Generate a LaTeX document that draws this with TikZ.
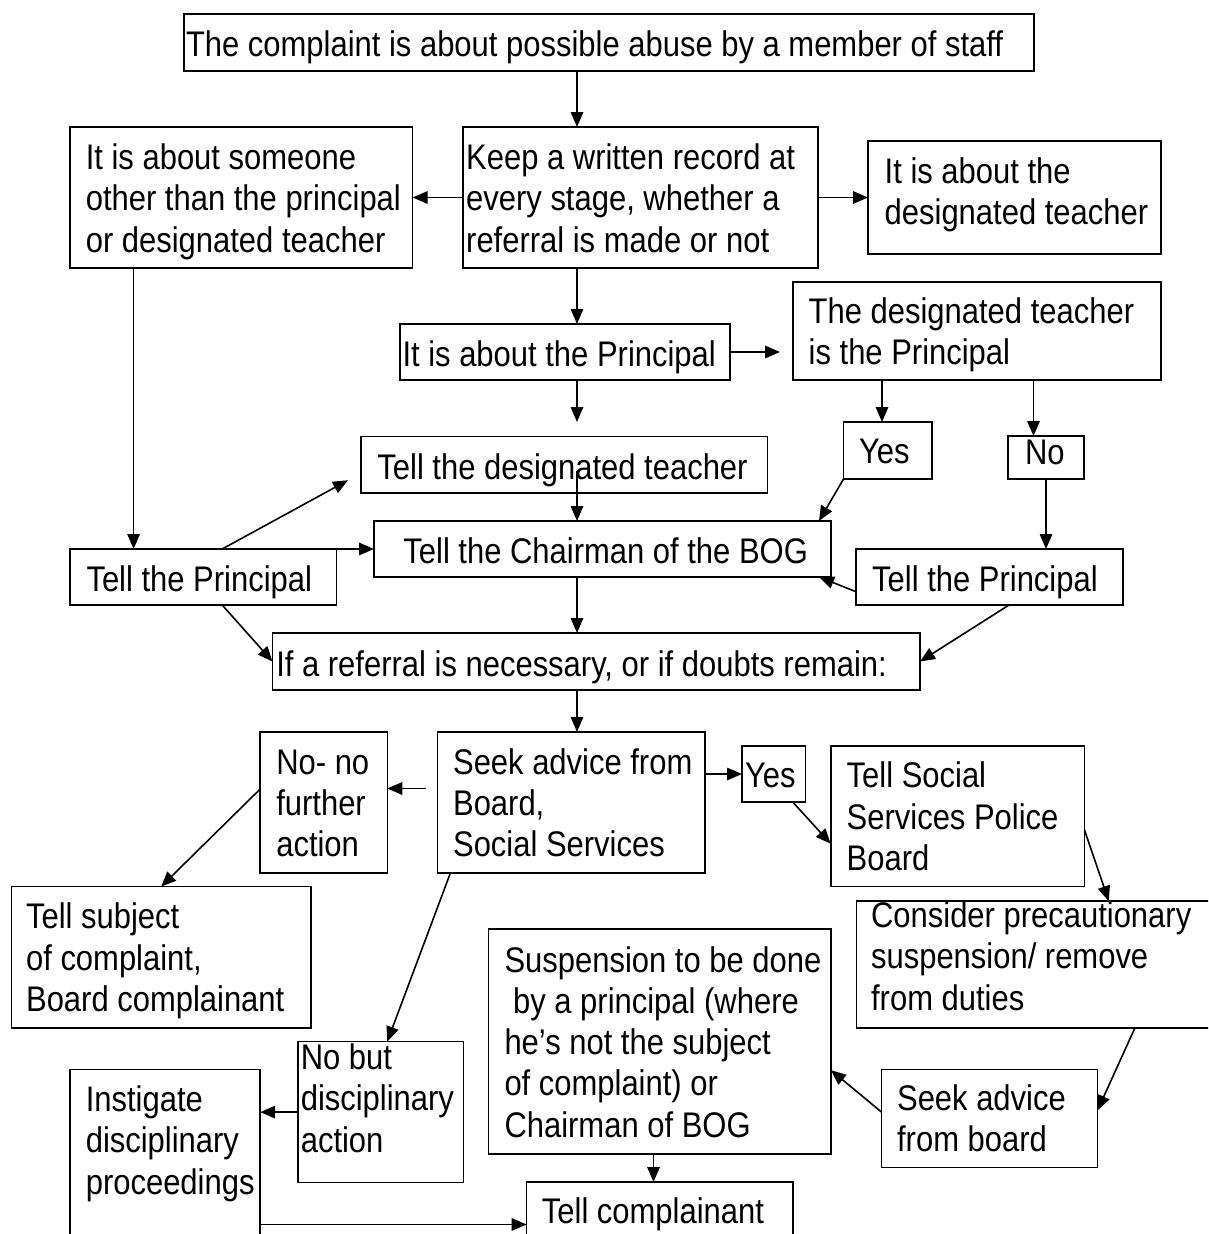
\documentclass[tikz,border=0pt]{standalone}
\usepackage{fontspec}
\setmainfont[FakeStretch=0.87]{Liberation Sans}
\usetikzlibrary{arrows.meta}
\newcommand\tl[1]{\begin{tabular}[t]{@{}l@{}}#1\end{tabular}}
\newcommand\bx[5]{\pgfmathsetmacro\bxw{#4-#2}\pgfmathsetmacro\bxh{#5-#3}%
  \node[box, minimum width=\bxw pt, minimum height=\bxh pt] (#1) at (#2,#3) {};}
\begin{document}
\begin{tikzpicture}[x=1pt,y=-1pt,
  box/.style={draw, line width=1.6pt, anchor=north west, inner sep=0pt, outer sep=0pt},
  txt/.style={anchor=base west, inner sep=0pt, outer sep=0pt, font=\fontsize{35.6}{41.3}\selectfont},
  arr/.style={line width=1.6pt, -{Triangle[length=15pt,width=12.5pt]}}]
\useasboundingbox (0,0) rectangle (1208,1234);
\clip (0,0) rectangle (1208,1234);
\fill[white] (0,0) rectangle (1208,1234);
% helper coordinates for vertical connectors
\coordinate (cx) at (577,0);
\coordinate (vxa) at (882,0);
\coordinate (vxb) at (1033.5,0);
\coordinate (vxc) at (653.5,0);
\coordinate (vxd) at (133.6,0);
\coordinate (ya) at (0,1224.5);
% boxes
\bx{top}{184}{14}{1034}{71}
\bx{someone}{70}{127}{412.6}{268}
\bx{keep}{463}{127}{818}{268}
\bx{desig}{868}{141}{1161}{254}
\bx{princ}{400}{324}{730}{380}
\bx{dtp}{793}{282}{1161}{380}
\bx{yesa}{843.5}{422}{932}{479}
\bx{noa}{1008}{436}{1084}{479}
\bx{tdt}{361}{436.5}{767.5}{493}
\bx{chair}{374}{521}{831}{577}
\bx{tpl}{70}{549}{336.4}{605}
\bx{tpr}{856}{549}{1122.7}{605}
\bx{ref}{272.5}{633}{920}{690}
\bx{seek}{437.4}{732}{704.7}{873}
\bx{nono}{260}{732}{387.3}{873}
\bx{yesb}{742}{746}{805.5}{802}
\bx{tss}{830.7}{746}{1084.3}{886.6}
\bx{subj}{11.5}{886.6}{310.8}{1027.7}
\bx{cons}{856.3}{901}{1230}{1027.7}
\bx{susp}{488.3}{929}{831}{1154}
\bx{nobut}{297.7}{1041.6}{463.4}{1182.6}
\bx{inst}{70}{1069.5}{260.2}{1260}
\bx{sboard}{881.5}{1069.5}{1097.5}{1167.6}
\bx{tcomp}{526.6}{1182}{792.7}{1260}
% texts
\node[txt] (top-t) at (186,56.7) {\tl{The complaint is about possible abuse by a member of staff}};
\node[txt] (someone-t) at (85.8,169.5) {\tl{It is about someone\\other than the principal\\or designated teacher}};
\node[txt] (keep-t) at (466.2,169.5) {\tl{Keep a written record at\\every stage, whether a\\referral is made or not}};
\node[txt] (desig-t) at (884.7,183.3) {\tl{It is about the\\designated teacher}};
\node[txt] (princ-t) at (402.5,366.7) {\tl{It is about the Principal}};
\node[txt] (dtp-t) at (808.7,323.3) {\tl{The designated teacher\\is the Principal}};
\node[txt] (yesa-t) at (859.1,463.3) {\tl{Yes}};
\node[txt] (noa-t) at (1025,464) {\tl{No}};
\node[txt] (tdt-t) at (377.4,479) {\tl{Tell the designated teacher}};
\node[txt] (chair-t) at (403.4,563.3) {\tl{Tell the Chairman of the BOG}};
\node[txt] (tpl-t) at (86.5,591.7) {\tl{Tell the Principal}};
\node[txt] (tpr-t) at (872.2,591) {\tl{Tell the Principal}};
\node[txt] (ref-t) at (276.3,676) {\tl{If a referral is necessary, or if doubts remain:}};
\node[txt] (seek-t) at (453.1,774.3) {\tl{Seek advice from\\Board,\\Social Services}};
\node[txt] (nono-t) at (276.3,774.3) {\tl{No- no\\further\\action}};
\node[txt] (yesb-t) at (745.1,787.9) {\tl{Yes}};
\node[txt] (tss-t) at (846.7,787.9) {\tl{Tell Social\\Services Police\\Board}};
\node[txt] (subj-t) at (26.1,928.9) {\tl{Tell subject\\of complaint,\\Board complainant}};
\node[txt] (cons-t) at (871.1,927.5) {\tl{Consider precautionary\\suspension/ remove\\from duties}};
\node[txt] (susp-t) at (504.5,972) {\tl{Suspension to be done\\\ by a principal (where\\he’s not the subject\\of complaint) or\\Chairman of BOG}};
\node[txt] (nobut-t) at (300.8,1069.5) {\tl{No but\\disciplinary\\action}};
\node[txt] (inst-t) at (85.8,1111.4) {\tl{Instigate\\disciplinary\\proceedings}};
\node[txt] (sboard-t) at (897.1,1110.4) {\tl{Seek advice\\from board}};
\node[txt] (tcomp-t) at (541.9,1223.5) {\tl{Tell complainant}};
% connectors
\draw[arr] (top.south -| cx) -- (keep.north -| cx);
\draw[arr] (keep.west) -- (someone.east);
\draw[arr] (keep.east) -- (desig.west);
\draw[arr] (keep.south -| cx) -- (princ.north -| cx);
\draw[arr, shorten >=14.5pt] (princ.south -| cx) -- (tdt.north -| cx);
\draw[arr, shorten >=13pt] (princ.east) -- (princ.east -| dtp.west);
\draw[arr] (dtp.south -| vxa) -- (yesa.north -| vxa);
\draw[arr] (dtp.south -| vxb) -- (noa.north -| vxb);
\draw[arr] (yesa.south west) -- ([xshift=-12pt]chair.north east);
\draw[arr] (noa.south) -- (noa.south |- tpr.north);
\draw[arr] ([yshift=-14.7pt]tpr.west) -- ([xshift=-12pt]chair.south east);
\draw[arr] ([xshift=19.7pt]tpr.south) -- (ref.east);
\draw[arr, shorten <=-22pt] (tdt.south -| cx) -- (chair.north -| cx);
\draw[arr] ([xshift=19pt]tpl.north) -- ([xshift=-13pt,yshift=-15.5pt]tdt.west);
\draw[arr] (tpl.north east) -- (tpl.north east -| chair.west);
\draw[arr] ([xshift=19pt]tpl.south) -- (ref.west);
\draw[arr] (someone.south -| vxd) -- (tpl.north -| vxd);
\draw[arr] (chair.south -| cx) -- (ref.north -| cx);
\draw[arr] (ref.south -| cx) -- (seek.north -| cx);
\draw[arr] ([xshift=-11.4pt,yshift=14pt]seek.west) -- ([yshift=14pt]nono.east);
\draw[arr] ([yshift=13.3pt]nono.west) -- (subj.north);
\draw[arr] ([xshift=13pt]seek.south west) -- ([xshift=6.7pt]nobut.north);
\draw[arr] (seek.east |- yesb.west) -- (yesb.west);
\draw[arr] ([xshift=19pt]yesb.south) -- ([yshift=-27.4pt]tss.west);
\draw[arr] ([yshift=-13.1pt]tss.east) -- ([xshift=252.4pt]cons.north west);
\draw[arr] ([xshift=278.7pt]cons.south west) -- ([yshift=8.2pt]sboard.east);
\draw[arr] ([yshift=6.5pt]sboard.west) -- ([yshift=-28.7pt]susp.east);
\draw[arr] (nobut.west) -- (nobut.west -| inst.east);
\draw[arr] (inst.east |- ya) -- (tcomp.west |- ya);
\draw[arr] (susp.south -| vxc) -- (tcomp.north -| vxc);
\end{tikzpicture}
\end{document}
